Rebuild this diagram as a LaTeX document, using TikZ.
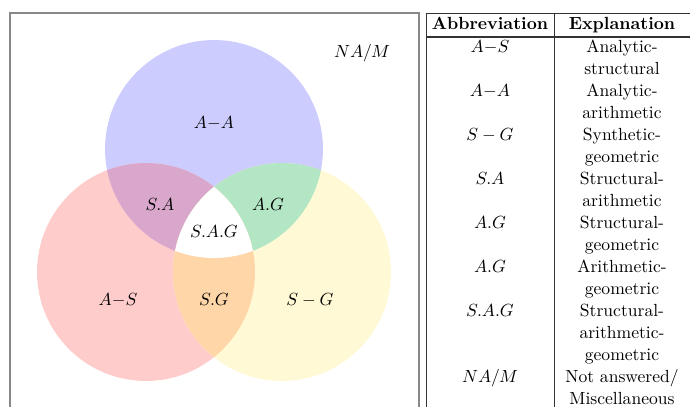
\documentclass[tikz,border=0pt]{standalone}
\usepackage{xcolor}
\usepackage{tikz}
\definecolor{setA}{HTML}{CCCCFF}
\definecolor{setS}{HTML}{FFCCCC}
\definecolor{setG}{HTML}{FFF9D6}
\definecolor{meetSA}{HTML}{D9A6CC}
\definecolor{meetAG}{HTML}{B3E6C4}
\definecolor{meetSG}{HTML}{FFD6A8}
\definecolor{frame}{HTML}{888888}
\tikzset{
  lbl/.style={inner sep=1pt,anchor=base},
  rule/.style={line width=0.5pt,black!80}
}
\newcommand{\setrad}{2.18cm}

\begin{document}
\begin{tikzpicture}[x=0.02cm,y=-0.02cm]
  \useasboundingbox (0,0) rectangle (690,406);
  % circle centres
  \coordinate (cA) at (214,149);
  \coordinate (cS) at (146,272);
  \coordinate (cG) at (282,272);
  \fill[setA] (cA) circle[radius=\setrad];
  \fill[setS] (cS) circle[radius=\setrad];
  \fill[setG] (cG) circle[radius=\setrad];
  % pairwise overlaps
  \begin{scope}
    \clip (cA) circle[radius=\setrad];
    \fill[meetSA] (cS) circle[radius=\setrad];
    \fill[meetAG] (cG) circle[radius=\setrad];
  \end{scope}
  \begin{scope}
    \clip (cS) circle[radius=\setrad];
    \fill[meetSG] (cG) circle[radius=\setrad];
    \clip (cG) circle[radius=\setrad];
    \fill[white] (cA) circle[radius=\setrad];
  \end{scope}
  % region labels
  \node[lbl] (na) at (362,57) {$NA/M$};
  \node[lbl] (aa) at (214,128) {$A{-}A$};
  \node[lbl] (sa) at (160,210) {$S.A$};
  \node[lbl] (ag) at (268,210) {$A.G$};
  \node[lbl] (sag) at (214,237) {$S.A.G$};
  \node[lbl] (as) at (118,305) {$A{-}S$};
  \node[lbl] (sg) at (214,305) {$S.G$};
  \node[lbl] (gg) at (310,305) {$S-G$};
  \draw[frame,line width=0.6pt] (10,413) -- (10,13) -- (419,13) -- (419,413);
  % table
  \coordinate (tl) at (426,13);
  \coordinate (tr) at (690,13);
  \coordinate (hl) at (426,37);
  \coordinate (hr) at (690,37);
  \coordinate (ml) at (554,13);
  \draw[rule] (tl) -- (tr);
  \draw[rule,line width=0.8pt] (hl) -- (hr);
  \draw[rule] (tl) -- ++(0,400);
  \draw[rule] (ml) -- ++(0,400);
  \node[lbl] (habbr) at (490,29) {\textbf{Abbreviation}};
  \node[lbl] (hexpl) at (622,29) {\textbf{Explanation}};
  \foreach \t/\k [count=\i] in {{$A{-}S$}/1,{$A{-}A$}/3,{$S-G$}/5,{$S.A$}/7,{$A.G$}/9,{$A.G$}/11,{$S.A.G$}/13,{$NA/M$}/16}
    \node[lbl] (ab\i) at (490,{52+22.06*(\k-1)}) {\t};
  \foreach \t [count=\i] in {Analytic-,structural,Analytic-,arithmetic,Synthetic-,geometric,Structural-,arithmetic,Structural-,geometric,Arithmetic-,geometric,Structural-,arithmetic-,geometric,Not answered/,Miscellaneous}
    \node[lbl] (ex\i) at (622,{52+22.06*(\i-1)}) {\t};
\end{tikzpicture}
\end{document}
